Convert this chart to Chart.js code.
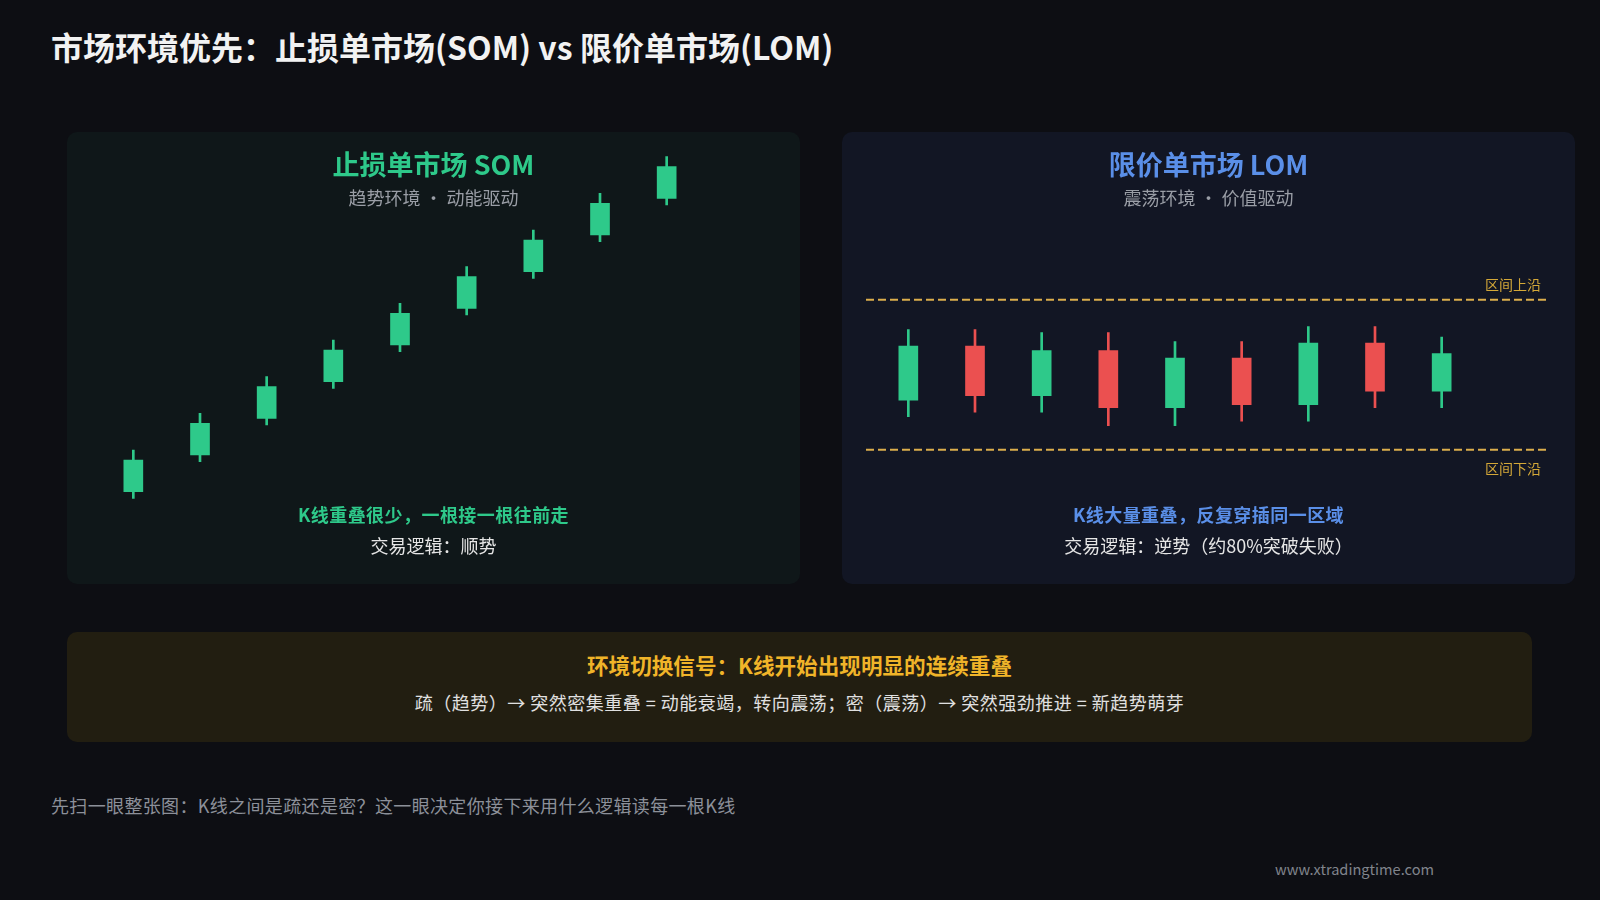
<!DOCTYPE html>
<html>
<head>
<meta charset="utf-8">
<script src="https://cdn.jsdelivr.net/npm/chart.js@4.4.1/dist/chart.umd.min.js"></script>
<style>
  body { margin: 0; background: #0d0e13; width: 1600px; height: 900px; overflow: hidden;
         font-family: "Noto Sans CJK SC", "Noto Sans", sans-serif; position: relative; }
  .abs { position: absolute; line-height: 1; white-space: nowrap; }
  .panel { position: absolute; top: 132px; width: 733px; height: 452px; border-radius: 10px; }
  .panel .wrap { position: absolute; left: 0; top: 0; width: 733px; height: 452px; }
  .center { left: 0; width: 100%; text-align: center; }
</style>
</head>
<body>

<div class="abs" style="left:51px; top:29.5px; font-size:32px; font-weight:700; color:#f2f2f2;">市场环境优先：止损单市场(SOM) vs 限价单市场(LOM)</div>

<div class="panel" style="left:67px; background:#0f1719;">
  <div class="wrap"><canvas id="somChart"></canvas></div>
  <div class="abs center" style="top:18px; font-size:27px; font-weight:700; color:#2ec98a;">止损单市场 SOM</div>
  <div class="abs center" style="top:55.5px; font-size:18px; color:#9a9ea6;">趋势环境 · 动能驱动</div>
  <div class="abs center" style="top:373px; font-size:18px; font-weight:700; letter-spacing:0.45px; color:#2ec98a;">K线重叠很少，一根接一根往前走</div>
  <div class="abs center" style="top:404px; font-size:18px; color:#e6e6e6;">交易逻辑：顺势</div>
</div>

<div class="panel" style="left:842px; background:#121624;">
  <div class="wrap"><canvas id="lomChart"></canvas></div>
  <div class="abs center" style="top:18px; font-size:27px; font-weight:700; color:#5a8fe8;">限价单市场 LOM</div>
  <div class="abs center" style="top:55.5px; font-size:18px; color:#9a9ea6;">震荡环境 · 价值驱动</div>
  <div class="abs center" style="top:373px; font-size:18px; font-weight:700; letter-spacing:0.45px; color:#5a8fe8;">K线大量重叠，反复穿插同一区域</div>
  <div class="abs center" style="top:404px; font-size:18px; color:#e6e6e6;">交易逻辑：逆势（约80%突破失败）</div>
</div>

<div style="position:absolute; left:67px; top:632px; width:1465px; height:110px; border-radius:10px; background:#221e11;">
  <div class="abs center" style="top:22px; font-size:21.6px; font-weight:700; color:#f0b429;">环境切换信号：K线开始出现明显的连续重叠</div>
  <div class="abs center" style="top:61px; font-size:18px; letter-spacing:0.5px; color:#e0e0e0;">疏（趋势）→ 突然密集重叠 = 动能衰竭，转向震荡；密（震荡）→ 突然强劲推进 = 新趋势萌芽</div>
</div>

<div class="abs" style="left:51px; top:796px; font-size:18px; letter-spacing:0.35px; color:#8c9099;">先扫一眼整张图：K线之间是疏还是密？这一眼决定你接下来用什么逻辑读每一根K线</div>
<div class="abs" style="left:1275px; top:862px; font-size:14.6px; color:#80848c;">www.xtradingtime.com</div>

<script>
// SOM: trending candles
var somLabels = ['1', '2', '3', '4', '5', '6', '7', '8', '9'];
var somOpen  = [10, 21, 32, 43, 54, 65, 76, 87, 98];
var somClose = [19.5, 30.5, 41.5, 52.5, 63.5, 74.5, 85.5, 96.5, 107.5];
var somHigh  = [22.5, 33.5, 44.5, 55.5, 66.5, 77.5, 88.5, 99.5, 110.5];
var somLow   = [8, 19, 30, 41, 52, 63, 74, 85, 96];

// LOM: ranging candles
var lomLabels = ['1', '2', '3', '4', '5', '6', '7', '8', '9'];
var lomOpen  = [36.5, 54.5, 38, 53, 34, 50.5, 35, 55.5, 39.5];
var lomClose = [54.5, 38, 53, 34, 50.5, 35, 55.5, 39.5, 52];
var lomHigh  = [60, 60, 59, 59, 56, 56, 61, 61, 57.5];
var lomLow   = [31, 32.5, 32.5, 28, 28, 29.5, 29.5, 34, 34];
var rangeTop = 70;
var rangeBottom = 20;

var UP = '#2ec98a';
var DOWN = '#eb5050';

function candleData(labels, open, close, high, low) {
  var colors = open.map(function (o, i) { return close[i] >= o ? UP : DOWN; });
  return {
    labels: labels,
    datasets: [
      {
        data: open.map(function (o, i) { return [o, close[i]]; }),
        backgroundColor: colors,
        barThickness: 19,
        grouped: false
      },
      {
        data: low.map(function (l, i) { return [l, high[i]]; }),
        backgroundColor: colors,
        barThickness: 2,
        grouped: false
      }
    ]
  };
}

function baseOptions(yMin, yMax, padding) {
  return {
    responsive: true,
    maintainAspectRatio: false,
    animation: false,
    layout: { padding: padding },
    plugins: { legend: { display: false }, tooltip: { enabled: false } },
    scales: {
      x: { display: false, offset: true, grid: { display: false } },
      y: { display: false, min: yMin, max: yMax, grid: { display: false } }
    }
  };
}

// dashed range lines for LOM
var rangeLines = {
  id: 'rangeLines',
  beforeDatasetsDraw: function (chart) {
    var ctx = chart.ctx;
    var y = chart.scales.y;
    var yTop = y.getPixelForValue(rangeTop);
    var yBot = y.getPixelForValue(rangeBottom);
    ctx.save();
    ctx.strokeStyle = '#dcae4c';
    ctx.lineWidth = 2;
    ctx.setLineDash([8, 4]);
    [yTop, yBot].forEach(function (py) {
      ctx.beginPath();
      ctx.moveTo(24, py);
      ctx.lineTo(chart.width - 25, py);
      ctx.stroke();
    });
    ctx.setLineDash([]);
    ctx.fillStyle = '#d4a838';
    ctx.font = '14px "Noto Sans CJK SC"';
    ctx.textAlign = 'right';
    ctx.textBaseline = 'middle';
    ctx.fillText('区间上沿', chart.width - 34, yTop - 15);
    ctx.fillText('区间下沿', chart.width - 34, yBot + 19);
    ctx.restore();
  }
};

new Chart(document.getElementById('somChart'), {
  type: 'bar',
  data: candleData(somLabels, somOpen, somClose, somHigh, somLow),
  options: baseOptions(0, 115, { left: 33, right: 100, top: 9.7, bottom: 59 })
});

new Chart(document.getElementById('lomChart'), {
  type: 'bar',
  data: candleData(lomLabels, lomOpen, lomClose, lomHigh, lomLow),
  options: baseOptions(0, 100, { left: 33, right: 100, top: 77.7, bottom: 74.3 }),
  plugins: [rangeLines]
});
</script>
</body>
</html>
